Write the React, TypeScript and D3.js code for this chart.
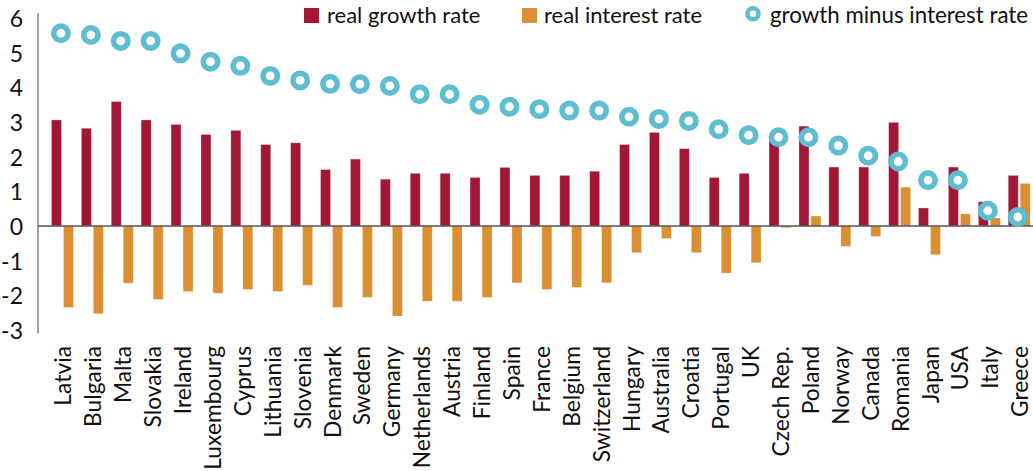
import React from "react";
import * as d3 from "d3";

const countries = ["Latvia","Bulgaria","Malta","Slovakia","Ireland","Luxembourg","Cyprus","Lithuania","Slovenia","Denmark","Sweden","Germany","Netherlands","Austria","Finland","Spain","France","Belgium","Switzerland","Hungary","Australia","Croatia","Portugal","UK","Czech Rep.","Poland","Norway","Canada","Romania","Japan","USA","Italy","Greece"];
const growth = [3.06,2.82,3.59,3.06,2.93,2.64,2.76,2.35,2.40,1.63,1.93,1.35,1.52,1.52,1.40,1.69,1.46,1.46,1.58,2.35,2.70,2.23,1.40,1.52,2.52,2.88,1.70,1.70,2.99,0.52,1.70,0.70,1.46];
const interest = [-2.35,-2.53,-1.65,-2.12,-1.89,-1.94,-1.83,-1.89,-1.71,-2.35,-2.06,-2.60,-2.17,-2.17,-2.06,-1.64,-1.83,-1.77,-1.64,-0.77,-0.36,-0.77,-1.36,-1.06,-0.05,0.29,-0.59,-0.30,1.12,-0.83,0.35,0.23,1.23];
const diff = [5.56,5.51,5.34,5.34,4.98,4.74,4.62,4.33,4.20,4.10,4.09,4.04,3.80,3.80,3.50,3.44,3.37,3.33,3.33,3.15,3.09,3.03,2.79,2.62,2.56,2.56,2.32,2.03,1.86,1.32,1.32,0.44,0.26];
const yTicks = [-3,-2,-1,0,1,2,3,4,5,6];
const legendItems = ["real growth rate","real interest rate","growth minus interest rate"];

const RED = "#a11735";
const ORANGE = "#da8f33";
const BLUE = "#5ebdd1";
const FONT = "Lato, 'Open Sans', sans-serif";

export default function App() {
  const W = 1033, H = 471;
  const y = d3.scaleLinear().domain([-3, 6]).range([330, 18]);
  const x = d3.scaleBand().domain(countries).range([47.5, 47.5 + 29.9 * countries.length]);
  const bw = x.bandwidth();
  const c = (name: string) => (x(name) as number) + bw / 2;
  const axisX = 38;
  return (
    <svg width={W} height={H} style={{ position: "absolute", left: 0, top: 0, background: "#fff" }} fontFamily={FONT}>
      {/* y axis */}
      <line x1={axisX} x2={axisX} y1={y(6.14)} y2={y(-3.1)} stroke="#444" strokeWidth={1} />
      {yTicks.map(t => (
        <text key={t} x={23} y={y(t)} textAnchor="end" dominantBaseline="central" fontSize={23} fill="#111">{t}</text>
      ))}
      {/* bars */}
      {countries.map((n, i) => (
        <g key={n}>
          <rect x={c(n) - 11} width={10} y={y(Math.max(0, growth[i]))} height={Math.abs(y(growth[i]) - y(0))} fill={RED} stroke="#fff" strokeOpacity={0.35} strokeWidth={0.8} />
          <rect x={c(n) + 1} width={10} y={y(Math.max(0, interest[i]))} height={Math.abs(y(interest[i]) - y(0))} fill={ORANGE} stroke="#fff" strokeOpacity={0.35} strokeWidth={0.8} />
        </g>
      ))}
      {/* zero line */}
      <line x1={axisX} x2={W} y1={y(0)} y2={y(0)} stroke="#555" strokeWidth={1.5} />
      {/* circles */}
      {countries.map((n, i) => (
        <circle key={n} cx={c(n) - 1.5} cy={y(diff[i])} r={7.2} fill="#fff" stroke={BLUE} strokeWidth={5.6} />
      ))}
      {/* category labels */}
      {countries.map(n => (
        <text key={n} transform={`translate(${c(n)},346) rotate(-90)`} textAnchor="end" dominantBaseline="central" fontSize={22.8} fill="#111">{n}</text>
      ))}
      {/* legend */}
      <rect x={304} y={8} width={15} height={15} fill={RED} />
      <text x={327} y={23} fontSize={22} fill="#111">{legendItems[0]}</text>
      <rect x={522} y={8} width={15} height={15} fill={ORANGE} />
      <text x={544} y={23} fontSize={22} fill="#111">{legendItems[1]}</text>
      <circle cx={753} cy={13.7} r={5.5} fill="#fff" stroke={BLUE} strokeWidth={4.5} />
      <text x={770} y={23} fontSize={22.3} fill="#111">{legendItems[2]}</text>
    </svg>
  );
}
